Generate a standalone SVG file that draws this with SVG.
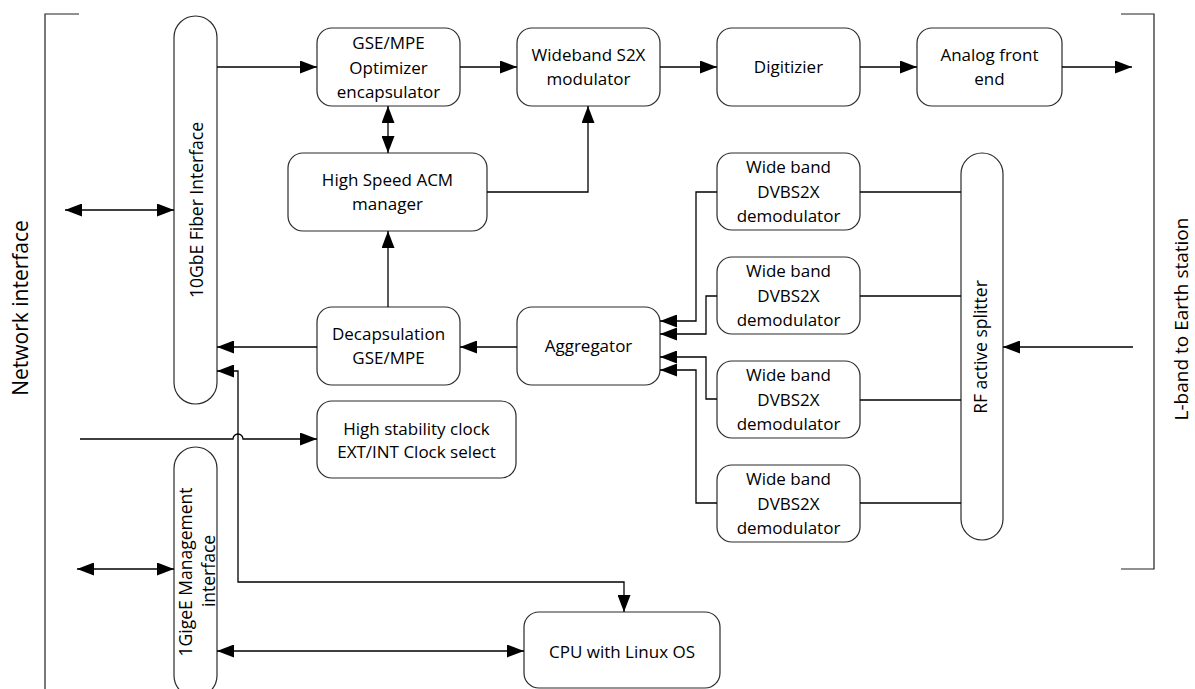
<svg xmlns="http://www.w3.org/2000/svg" width="1195" height="689" viewBox="0 0 1195 689">
<style>
  .box { fill: #fff; stroke: #2a2a2a; stroke-width: 1.2; }
  .t { font-family: "Open Sans", "Liberation Sans", sans-serif; font-size: 17px; fill: #000; text-anchor: middle; }
  .rt { font-family: "Open Sans", "Liberation Sans", sans-serif; font-size: 17.5px; fill: #000; text-anchor: middle; }
  .big { font-family: "Open Sans", "Liberation Sans", sans-serif; fill: #000; text-anchor: middle; }
  .ln { fill: none; stroke: #000; stroke-width: 1.3; }
  .br { fill: none; stroke: #222; stroke-width: 1.2; }
</style>
<defs>
  <marker id="ah" markerUnits="userSpaceOnUse" markerWidth="18" markerHeight="13" refX="17" refY="6.5" orient="auto-start-reverse">
    <path d="M0,0 L17,6.5 L0,13 z" fill="#000"/>
  </marker>
</defs>
<rect width="1195" height="689" fill="#fff"/>

<g id="network-interface">
  <path class="br" d="M79,14 H45 V689"/>
  <text class="big" font-size="21" transform="translate(28,308) rotate(-90)">Network interface</text>
</g>
<g id="lband">
  <path class="br" d="M1121,14 H1154 V569 H1121"/>
  <text class="big" font-size="19" transform="translate(1188,319) rotate(-90)">L-band to Earth station</text>
</g>

<g id="fiber">
  <rect class="box" x="174" y="16" width="43" height="388" rx="21.5"/>
  <text class="rt" transform="translate(203,210) rotate(-90)">10GbE Fiber Interface</text>
</g>
<g id="gigE">
  <rect class="box" x="174" y="447" width="43" height="250" rx="21.5"/>
  <text class="rt" transform="translate(192,572) rotate(-90)">1GigeE Management</text>
  <text class="rt" transform="translate(215,571) rotate(-90)">interface</text>
</g>
<g id="gse">
  <rect class="box" x="317" y="28" width="143" height="78" rx="15"/>
  <text class="t" x="388.5" y="49">GSE/MPE</text>
  <text class="t" x="388.5" y="74">Optimizer</text>
  <text class="t" x="388.5" y="98">encapsulator</text>
</g>
<g id="modulator">
  <rect class="box" x="517" y="28" width="143" height="78" rx="15"/>
  <text class="t" x="588.5" y="61">Wideband S2X</text>
  <text class="t" x="588.5" y="85">modulator</text>
</g>
<g id="digitizer">
  <rect class="box" x="717" y="28" width="143" height="78" rx="15"/>
  <text class="t" x="788.5" y="73">Digitizier</text>
</g>
<g id="afe">
  <rect class="box" x="917" y="28" width="145" height="78" rx="15"/>
  <text class="t" x="989.5" y="61">Analog front</text>
  <text class="t" x="989.5" y="85">end</text>
</g>
<g id="acm">
  <rect class="box" x="288" y="153" width="199" height="78" rx="15"/>
  <text class="t" x="387.5" y="186">High Speed ACM</text>
  <text class="t" x="387.5" y="210">manager</text>
</g>
<g id="decap">
  <rect class="box" x="317" y="307" width="143" height="78" rx="15"/>
  <text class="t" x="388.5" y="340">Decapsulation</text>
  <text class="t" x="388.5" y="364">GSE/MPE</text>
</g>
<g id="aggregator">
  <rect class="box" x="517" y="307" width="143" height="78" rx="15"/>
  <text class="t" x="588.5" y="352">Aggregator</text>
</g>
<g id="clock">
  <rect class="box" x="317" y="401" width="199" height="77" rx="15"/>
  <text class="t" x="416.5" y="435">High stability clock</text>
  <text class="t" x="416.5" y="458">EXT/INT Clock select</text>
</g>
<g id="cpu">
  <rect class="box" x="524" y="612" width="196" height="76" rx="15"/>
  <text class="t" x="622" y="658">CPU with Linux OS</text>
</g>
<g id="demod1">
  <rect class="box" x="717" y="153" width="143" height="77" rx="15"/>
  <text class="t" x="788.5" y="173">Wide band</text>
  <text class="t" x="788.5" y="198">DVBS2X</text>
  <text class="t" x="788.5" y="222">demodulator</text>
</g>
<g id="demod2">
  <rect class="box" x="717" y="257" width="143" height="77" rx="15"/>
  <text class="t" x="788.5" y="277">Wide band</text>
  <text class="t" x="788.5" y="302">DVBS2X</text>
  <text class="t" x="788.5" y="326">demodulator</text>
</g>
<g id="demod3">
  <rect class="box" x="717" y="361" width="143" height="77" rx="15"/>
  <text class="t" x="788.5" y="381">Wide band</text>
  <text class="t" x="788.5" y="406">DVBS2X</text>
  <text class="t" x="788.5" y="430">demodulator</text>
</g>
<g id="demod4">
  <rect class="box" x="717" y="465" width="143" height="77" rx="15"/>
  <text class="t" x="788.5" y="485">Wide band</text>
  <text class="t" x="788.5" y="510">DVBS2X</text>
  <text class="t" x="788.5" y="534">demodulator</text>
</g>
<g id="splitter">
  <rect class="box" x="961" y="153" width="42" height="387" rx="21"/>
  <text class="rt" transform="translate(987,347) rotate(-90)">RF active splitter</text>
</g>

<g id="connectors">
  <path class="ln" d="M65,210 H174" marker-start="url(#ah)" marker-end="url(#ah)"/>
  <path class="ln" d="M77,569 H174" marker-start="url(#ah)" marker-end="url(#ah)"/>
  <path class="ln" d="M217,67 H317" marker-end="url(#ah)"/>
  <path class="ln" d="M460,67 H517" marker-end="url(#ah)"/>
  <path class="ln" d="M660,67 H717" marker-end="url(#ah)"/>
  <path class="ln" d="M860,67 H917" marker-end="url(#ah)"/>
  <path class="ln" d="M1062,67 H1132" marker-end="url(#ah)"/>
  <path class="ln" d="M388,106 V153" marker-start="url(#ah)" marker-end="url(#ah)"/>
  <path class="ln" d="M487,192 H588 V106" marker-end="url(#ah)"/>
  <path class="ln" d="M388,307 V231" marker-end="url(#ah)"/>
  <path class="ln" d="M317,347 H217" marker-end="url(#ah)"/>
  <path class="ln" d="M517,347 H460" marker-end="url(#ah)"/>
  <path class="ln" d="M717,192 H696 V321 H660" marker-end="url(#ah)"/>
  <path class="ln" d="M717,296 H706 V334 H660" marker-end="url(#ah)"/>
  <path class="ln" d="M717,399 H706 V357 H660" marker-end="url(#ah)"/>
  <path class="ln" d="M717,503 H696 V370 H660" marker-end="url(#ah)"/>
  <path class="ln" d="M860,192 H961"/>
  <path class="ln" d="M860,296 H961"/>
  <path class="ln" d="M860,400 H961"/>
  <path class="ln" d="M860,503 H961"/>
  <path class="ln" d="M1133,347 H1003" marker-end="url(#ah)"/>
  <path class="ln" d="M217,371 H238 V582 H624 V612" marker-start="url(#ah)" marker-end="url(#ah)"/>
  <path class="ln" d="M80,439 H233 A5,5 0 0 1 243,439 H317" marker-end="url(#ah)"/>
  <path class="ln" d="M217,651 H524" marker-start="url(#ah)" marker-end="url(#ah)"/>
</g>
</svg>
